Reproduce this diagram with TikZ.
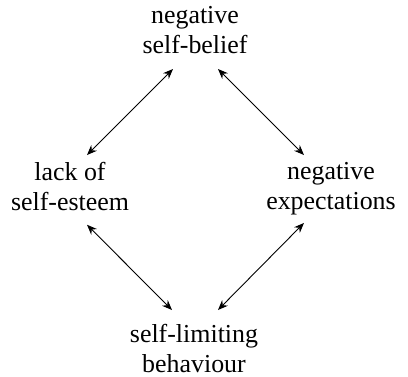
\documentclass[tikz,border=0pt]{standalone}
\usepackage{fontspec}
\setmainfont{Liberation Serif}
\usetikzlibrary{arrows.meta}
\begin{document}
\begin{tikzpicture}[x=1bp,y=-1bp,
  lbl/.style={align=center,inner sep=0pt,font=\fontsize{26}{30}\selectfont},
  arr/.style={{Stealth[length=10bp,width=8bp]}-{Stealth[length=10bp,width=8bp]},line width=0.9bp}]
\useasboundingbox (0,0) rectangle (408,377);
\node[lbl,anchor=south] (top) at (195,54) {negative\\self-belief};
\node[lbl,anchor=north] (left) at (70,162) {lack of\\self-esteem};
\node[lbl,anchor=north] (right) at (331,162) {negative\\expectations};
\node[lbl,anchor=north] (bot) at (194,324) {self-limiting\\behaviour};
\draw[arr] ([xshift=-22bp,yshift=-15bp]top.south) -- ([xshift=17bp,yshift=7bp]left.north);
\draw[arr] ([xshift=23bp,yshift=-15bp]top.south) -- ([xshift=-27bp,yshift=7bp]right.north);
\draw[arr] ([xshift=17bp,yshift=-14bp]left.south) -- ([xshift=-22bp,yshift=14bp]bot.north);
\draw[arr] ([xshift=-27bp,yshift=-8bp]right.south) -- ([xshift=24bp,yshift=14bp]bot.north);
\end{tikzpicture}
\end{document}
